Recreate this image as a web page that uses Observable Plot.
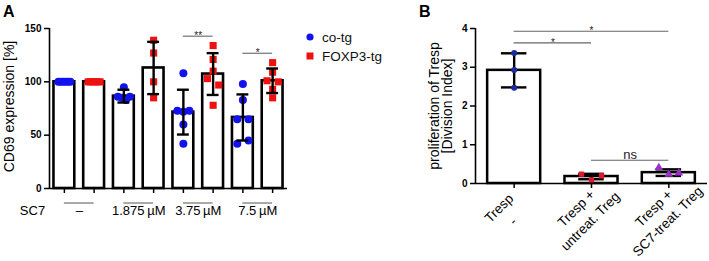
<!DOCTYPE html>
<html><head><meta charset="utf-8">
<script src="https://cdn.jsdelivr.net/npm/d3@7"></script>
<script src="https://cdn.jsdelivr.net/npm/@observablehq/plot@0.6"></script>
<style>
body{margin:0;background:#fff;font-family:"Liberation Sans",Arial,sans-serif;}
#wrap{position:relative;width:709px;height:261px;overflow:hidden;background:#fff;}
#wrap > div{position:absolute;}
.panel{font-weight:bold;font-size:16px;line-height:16px;}
#legend{font-size:13.5px;line-height:19px;color:#111;}
</style></head><body><div id="wrap">
<div id="pa" style="left:0;top:0"></div>
<div id="pb" style="left:400px;top:0"></div>
<div class="panel" style="left:3px;top:4px">A</div>
<div class="panel" style="left:419px;top:4px">B</div>
<div id="legend" style="left:305px;top:28px"></div>
</div>
<script>
// ---------- Panel A data ----------
const concLabelsA = ["–", "1.875\u2009µM", "3.75\u2009µM", "7.5\u2009µM"];
const seriesA = ["co-tg", "FOXP3-tg"];
const coTgPoints = [[100,100,100,100,100,100],[95,86,85,83,86],[108,73,72,73,60,42],[98,83,65,65,42,45]];
const foxpPoints = [[100,100,100,100,100,100],[139,127,100,85],[134,121,110,103,97,78],[118,109,101,100,93,85]];
const coTgMean = [100, 86.6, 71.6, 66.6];
const coTgSD = [0, 6, 21, 21.6];
const foxpMean = [100, 113, 107.3, 101];
const foxpSD = [0, 24.5, 19.6, 11.5];
const yTicksA = [0, 50, 100, 150];
const sigPairsA = [[4, 5], [6, 7]];
const sigLevelsA = [142.8, 126.8];
const sigLabelsA = ["**", "*"];

// ---------- Panel B data ----------
const groupLine1B = ["Tresp", "Tresp +", "Tresp +"];
const groupLine2B = ["-", "untreat. Treg", "SC7-treat. Treg"];
const pointsB = [[3.37, 2.93, 2.47], [0.24, 0.09, 0.2], [0.41, 0.24, 0.27]];
const meanB = [2.92, 0.18, 0.28];
const sdB = [0.44, 0.07, 0.085];
const yTicksB = [0, 1, 2, 3, 4];
const starPairsB = [[0, 2], [0, 1]];
const starLevelsB = [3.93, 3.63];
const nsPairB = [[1, 2]];
const nsLevelB = [0.6];

const colBlue = "#1212ee", colRed = "#ee1111";
const colorsB = ["#1c2a9c", "#e0182a", "#9a2fc8"];
const font = "Liberation Sans, Arial, sans-serif";

// spread overlapping points horizontally (pixel offsets), like a scatter dot plot
function spread(vals, pxPerUnit, thresh, maxSpan, maxStep) {
  const idx = d3.range(vals.length).sort((a, b) => vals[a] - vals[b]);
  const clusters = []; let cur = [idx[0]];
  for (let k = 1; k < idx.length; k++) {
    if ((vals[idx[k]] - vals[idx[k - 1]]) * pxPerUnit < thresh) cur.push(idx[k]);
    else { clusters.push(cur); cur = [idx[k]]; }
  }
  clusters.push(cur);
  const off = new Array(vals.length).fill(0);
  for (const c of clusters) {
    if (c.length < 2) continue;
    const s = Math.min(maxStep, maxSpan / (c.length - 1));
    c.sort((a, b) => a - b);
    c.forEach((j, k) => off[j] = (k - (c.length - 1) / 2) * s);
  }
  return off;
}

// ---------- Build Panel A ----------
const barsA = [];
const dotsCo = [], dotsFox = [];
const pxUnitXA = (287 - 49) / 8, pxUnitYA = 160 / 150;
concLabelsA.forEach((c, g) => {
  barsA.push({i: 2 * g, mean: coTgMean[g], sd: coTgSD[g]});
  barsA.push({i: 2 * g + 1, mean: foxpMean[g], sd: foxpSD[g]});
  const o1 = spread(coTgPoints[g], pxUnitYA, 7, 12, 11.2);
  coTgPoints[g].forEach((v, k) => dotsCo.push({x: 2 * g + o1[k] / pxUnitXA, v}));
  const o2 = spread(foxpPoints[g], pxUnitYA, 7, 12, 11.2);
  foxpPoints[g].forEach((v, k) => dotsFox.push({x: 2 * g + 1 + o2[k] / pxUnitXA, v}));
});
const errA = barsA.filter(d => d.sd > 0);

const plotA = Plot.plot({
  width: 300, height: 261,
  marginLeft: 49, marginRight: 13, marginTop: 28, marginBottom: 73,
  style: {fontFamily: font, fontSize: "13px", color: "#000", background: "transparent", overflow: "visible"},
  x: {type: "linear", domain: [-0.5, 7.5]},
  y: {domain: [0, 150]},
  marks: [
    Plot.rectY(barsA, {x1: d => d.i - 0.35, x2: d => d.i + 0.35, y1: 0, y2: "mean", fill: "white", stroke: "black", strokeWidth: 2.6}),
    Plot.dot(dotsCo, {x: "x", y: "v", r: 4, fill: colBlue, symbol: "circle"}),
    Plot.dot(dotsFox, {x: "x", y: "v", r: 4, fill: colRed, symbol: "square"}),
    Plot.ruleX(errA, {x: "i", y1: d => d.mean - d.sd, y2: d => d.mean + d.sd, stroke: "black", strokeWidth: 2.4}),
    Plot.ruleY(errA, {x1: d => d.i - 0.2, x2: d => d.i + 0.2, y: d => d.mean + d.sd, stroke: "black", strokeWidth: 2.4}),
    Plot.ruleY(errA, {x1: d => d.i - 0.2, x2: d => d.i + 0.2, y: d => d.mean - d.sd, stroke: "black", strokeWidth: 2.4}),
    Plot.ruleX([-0.5], {stroke: "black", strokeWidth: 1.6}),
    Plot.ruleY([0], {stroke: "black", strokeWidth: 1.6}),
    Plot.axisY({ticks: yTicksA, tickFormat: "d", tickSize: 5, tickPadding: 3, fontWeight: "bold", fontSize: 10, strokeWidth: 1.5, label: null}),
    Plot.axisX({ticks: d3.range(8), tickSize: 5, tickFormat: () => "", strokeWidth: 1.5, label: null}),
    // group lines and concentration labels
    Plot.ruleY(concLabelsA, {x1: (d, i) => 2 * i, x2: (d, i) => 2 * i + 1, y: 0, dy: 14.5, stroke: "#555", strokeWidth: 1}),
    Plot.text(concLabelsA, {x: (d, i) => 2 * i + 0.5, frameAnchor: "bottom", textAnchor: "middle", dy: 26, text: d => d, fontSize: 13}),
    Plot.text(["SC7"], {frameAnchor: "bottom-left", textAnchor: "middle", dx: -17, dy: 26, text: d => d, fontSize: 13}),
    // y label
    Plot.text(["CD69 expression [%]"], {frameAnchor: "left", textAnchor: "middle", dx: -40, dy: -2, rotate: -90, text: d => d, fontSize: 14}),
    // significance
    Plot.ruleY(sigPairsA, {x1: d => d[0], x2: d => d[1], y: (d, i) => sigLevelsA[i], stroke: "#666", strokeWidth: 1.1}),
    Plot.text(sigPairsA, {x: d => (d[0] + d[1]) / 2, y: (d, i) => sigLevelsA[i], text: (d, i) => sigLabelsA[i], lineAnchor: "bottom", dy: 3, fontSize: 10, fill: "#222"})
  ]
});
document.getElementById("pa").appendChild(plotA);

// legend
document.getElementById("legend").innerHTML =
  `<div><svg width="12" height="12" style="vertical-align:-1px;margin-right:5px"><circle cx="5" cy="6" r="3.6" fill="${colBlue}"/></svg>${seriesA[0]}</div>` +
  `<div><svg width="12" height="12" style="vertical-align:-1px;margin-right:5px"><rect x="1.5" y="2.5" width="7" height="7" fill="${colRed}"/></svg>${seriesA[1]}</div>`;

// ---------- Build Panel B ----------
const barsB = meanB.map((m, i) => ({i, mean: m, sd: sdB[i]}));
const pxUnitXB = (707 - 475) / 3, pxUnitYB = (183 - 28) / 4;
const dotsB = [];
pointsB.forEach((vals, g) => {
  const o = spread(vals, pxUnitYB, 7, 20, 10);
  vals.forEach((v, k) => dotsB.push({g, x: g + o[k] / pxUnitXB, v}));
});

const plotB = Plot.plot({
  width: 309, height: 261,
  marginLeft: 75, marginRight: 2, marginTop: 28, marginBottom: 78,
  style: {fontFamily: font, fontSize: "13px", color: "#000", background: "transparent", overflow: "visible"},
  x: {type: "linear", domain: [-0.5, 2.5]},
  y: {domain: [0, 4]},
  marks: [
    Plot.rectY(barsB, {x1: d => d.i - 0.343, x2: d => d.i + 0.343, y1: 0, y2: "mean", fill: "white", stroke: "black", strokeWidth: 2.5}),
    Plot.ruleX(barsB, {x: "i", y1: d => d.mean - d.sd, y2: d => d.mean + d.sd, stroke: "black", strokeWidth: 2.4}),
    Plot.ruleY(barsB, {x1: d => d.i - 0.165, x2: d => d.i + 0.165, y: d => d.mean + d.sd, stroke: "black", strokeWidth: 2.4}),
    Plot.ruleY(barsB, {x1: d => d.i - 0.165, x2: d => d.i + 0.165, y: d => d.mean - d.sd, stroke: "black", strokeWidth: 2.4}),
    Plot.dot(dotsB.filter(d => d.g === 0), {x: "x", y: "v", r: 3, fill: colorsB[0], symbol: "circle"}),
    Plot.dot(dotsB.filter(d => d.g === 1), {x: "x", y: "v", r: 3, fill: colorsB[1], symbol: "square"}),
    Plot.dot(dotsB.filter(d => d.g === 2), {x: "x", y: "v", r: 3.2, fill: colorsB[2], symbol: "triangle"}),
    Plot.ruleX([-0.5], {stroke: "black", strokeWidth: 1.6}),
    Plot.ruleY([0], {stroke: "black", strokeWidth: 1.6}),
    Plot.axisY({ticks: yTicksB, tickFormat: "d", tickSize: 5, tickPadding: 3, fontWeight: "bold", fontSize: 10, strokeWidth: 1.5, label: null}),
    Plot.axisX({ticks: [0, 1, 2], tickSize: 5, tickFormat: () => "", strokeWidth: 1.5, label: null}),
    Plot.text(groupLine1B, {x: (d, i) => i, frameAnchor: "bottom", textAnchor: "middle", dx: -12, dy: 28, rotate: -45, text: d => d, fontSize: 13.5}),
    Plot.text(groupLine2B, {x: (d, i) => i, frameAnchor: "bottom", textAnchor: "middle", dx: 2, dy: 41, rotate: -45, text: d => d, fontSize: 13.5}),
    Plot.text(["proliferation of Tresp\n[Division Index]"], {frameAnchor: "left", textAnchor: "middle", dx: -34, rotate: -90, text: d => d, fontSize: 14, lineHeight: 0.95}),
    Plot.ruleY(starPairsB, {x1: d => d[0], x2: d => d[1], y: (d, i) => starLevelsB[i], stroke: "#666", strokeWidth: 1.1}),
    Plot.text(starPairsB, {x: d => (d[0] + d[1]) / 2, y: (d, i) => starLevelsB[i], text: () => "*", lineAnchor: "bottom", dy: 3, fontSize: 10, fill: "#222"}),
    Plot.ruleY(nsPairB, {x1: d => d[0], x2: d => d[1], y: (d, i) => nsLevelB[i], stroke: "#666", strokeWidth: 1.1}),
    Plot.text(nsPairB, {x: d => (d[0] + d[1]) / 2, y: (d, i) => nsLevelB[i], text: () => "ns", lineAnchor: "bottom", dy: -1, fontSize: 13, fill: "#222"})
  ]
});
document.getElementById("pb").appendChild(plotB);
</script>
</body></html>
